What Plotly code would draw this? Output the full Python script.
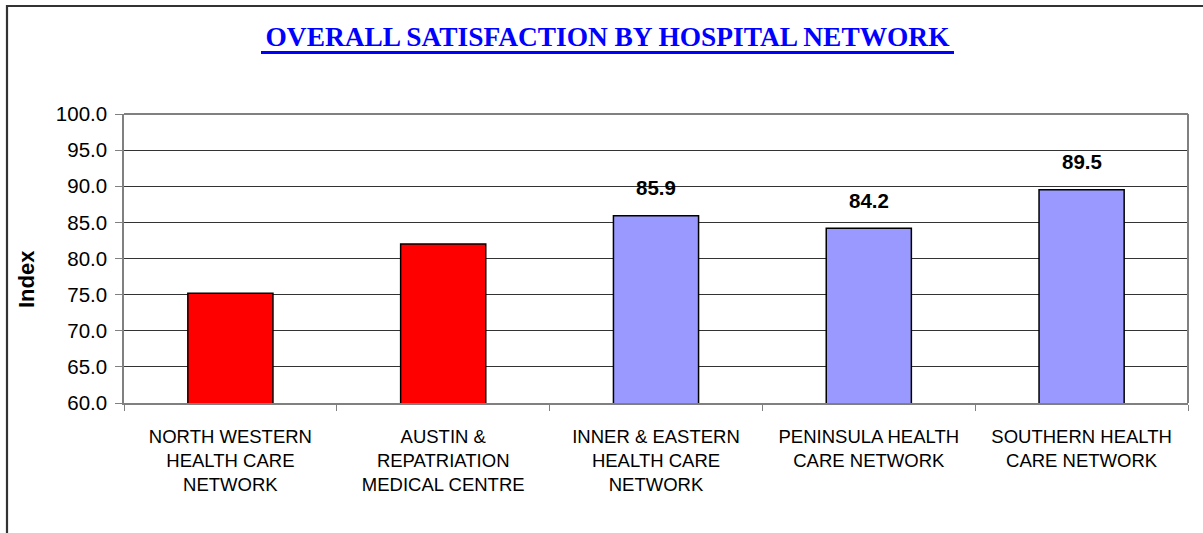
import plotly.graph_objects as go

categories = [
    "NORTH WESTERN<br>HEALTH CARE<br>NETWORK",
    "AUSTIN &<br>REPATRIATION<br>MEDICAL CENTRE",
    "INNER & EASTERN<br>HEALTH CARE<br>NETWORK",
    "PENINSULA HEALTH<br>CARE NETWORK",
    "SOUTHERN HEALTH<br>CARE NETWORK",
]
values = [75.2, 82.0, 85.9, 84.2, 89.5]
bar_colors = ["#FF0000", "#FF0000", "#9999FF", "#9999FF", "#9999FF"]
labeled = [False, False, True, True, True]
y_ticks = [60, 65, 70, 75, 80, 85, 90, 95, 100]
title_text = "OVERALL SATISFACTION BY HOSPITAL NETWORK"
y_title = "Index"

# page body margin is removed via post_script, so figure == window
W, H = 1203, 533
L, R, T, B = 124, W - 1188, 114, H - 403
pw, ph = W - L - R, H - T - B


def px_x(s):
    return (s - L) / pw


def px_y(s):
    return (H - B - s) / ph


ARIAL = "Arial, Liberation Sans, sans-serif"

fig = go.Figure()
fig.add_trace(go.Bar(
    x=categories, y=values,
    marker=dict(color=bar_colors, line=dict(color="#000000", width=1.5)),
    width=0.4,
    hoverinfo="skip",
))

for c, v, lab in zip(categories, values, labeled):
    if lab:
        fig.add_annotation(
            x=c, y=v, text=f"<b>{v:.1f}</b>", showarrow=False,
            yanchor="middle", yshift=28,
            font=dict(family=ARIAL, size=20.5, color="#000000"),
        )

fig.update_layout(
    width=W, height=H,
    margin=dict(l=L, r=R, t=T, b=B, autoexpand=False),
    paper_bgcolor="#FFFFFF", plot_bgcolor="#FFFFFF",
    showlegend=False,
    title=dict(
        text=f"<b>{title_text}</b>",
        font=dict(family="Liberation Serif, Times New Roman, serif", size=27.4, color="#0000FF"),
        xref="paper", x=px_x(607.5), xanchor="center",
        yref="container", y=1 - 36 / H, yanchor="middle",
    ),
    xaxis=dict(
        showgrid=False, showline=True, linecolor="#808080", linewidth=1.5,
        ticks="outside", ticklen=6, tickcolor="#808080",
        tickson="boundaries",
        tickfont=dict(family=ARIAL, size=18.5, color="#000000"),
        ticklabelstandoff=16,
    ),
    yaxis=dict(
        range=[60, 100], tickvals=y_ticks,
        ticktext=[f"{t:.1f}" for t in y_ticks],
        showgrid=True, gridcolor="#333333", gridwidth=1,
        showline=True, linecolor="#808080", linewidth=1.5,
        ticks="outside", ticklen=7, tickcolor="#808080",
        tickfont=dict(family=ARIAL, size=20.5, color="#000000"),
        ticklabelstandoff=4,
        zeroline=False,
    ),
    bargap=0.6,
)

# y axis title
fig.add_annotation(
    xref="paper", yref="paper", x=px_x(26), y=px_y(279),
    text=f"<b>{y_title}</b>", textangle=-90, showarrow=False,
    xanchor="center", yanchor="middle",
    font=dict(family=ARIAL, size=22, color="#000000"),
)

# plot area frame (top and right)
fig.add_shape(type="line", xref="paper", yref="paper", x0=0, x1=1, y0=1, y1=1,
              line=dict(color="#808080", width=2))
fig.add_shape(type="line", xref="paper", yref="paper", x0=1, x1=1, y0=0, y1=1,
              line=dict(color="#808080", width=2))
# outer chart border (left & top visible)
fig.add_shape(type="rect", xref="paper", yref="paper",
              x0=px_x(7), x1=px_x(1260), y0=px_y(600), y1=px_y(6),
              line=dict(color="#333333", width=2.2), fillcolor="rgba(0,0,0,0)")
# title underline
fig.add_shape(type="line", xref="paper", yref="paper",
              x0=px_x(261), x1=px_x(954), y0=px_y(52.5), y1=px_y(52.5),
              line=dict(color="#0000FF", width=3))

fig.write_html(
    "out.html",
    config={"displayModeBar": False},
    post_script="document.body.style.margin='0px';document.body.style.overflow='hidden';",
)
